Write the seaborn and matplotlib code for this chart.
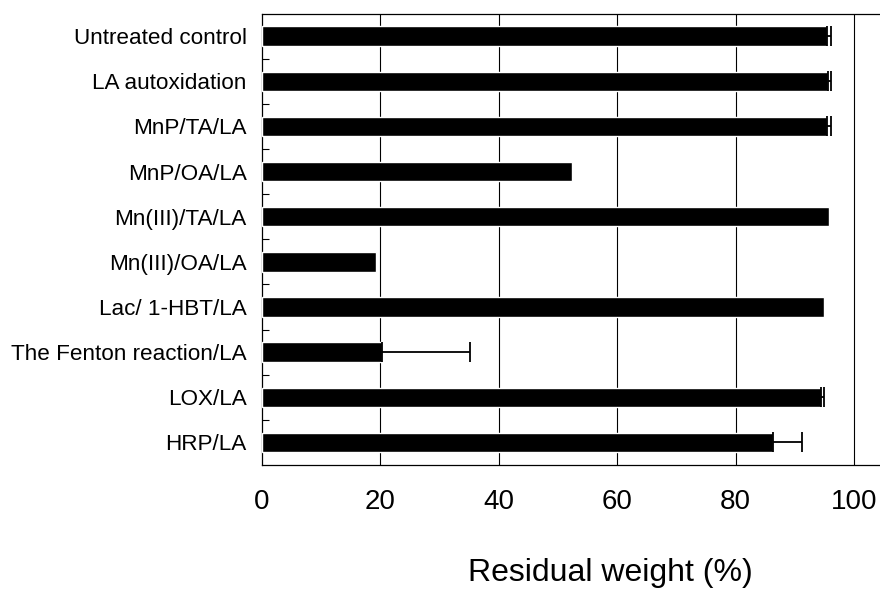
import numpy as np
import pandas as pd
import matplotlib
matplotlib.use("Agg")
import matplotlib.pyplot as plt
import seaborn as sns

categories = ["Untreated control", "LA autoxidation", "MnP/TA/LA", "MnP/OA/LA",
              "Mn(III)/TA/LA", "Mn(III)/OA/LA", "Lac/ 1-HBT/LA",
              "The Fenton reaction/LA", "LOX/LA", "HRP/LA"]
values = [95.4, 95.6, 95.5, 52.4, 95.8, 19.3, 94.9, 20.2, 94.4, 86.3]
errors = [0.7, 0.6, 0.6, 0.0, 0.0, 0.0, 0.0, 15.0, 0.5, 5.0]
xticks = [0, 20, 40, 60, 80, 100]

sns.set_theme(style="white")
plt.rcParams['font.family'] = ['Liberation Sans', 'DejaVu Sans']
plt.rcParams['text.color'] = 'black'
plt.rcParams['xtick.color'] = 'black'
plt.rcParams['ytick.color'] = 'black'
plt.rcParams['axes.labelcolor'] = 'black'

fig = plt.figure(figsize=(8.8, 5.95), dpi=100)
ax = fig.add_axes([262/880, 1 - 465/595, 1 - 262/880, (465 - 13.5)/595])

df = pd.DataFrame({"cat": categories, "val": values, "err": errors})
sns.barplot(data=df, x="val", y="cat", color="black", orient="h",
            width=0.43, errorbar=None, ax=ax, saturation=1, zorder=3)

pos = np.arange(len(categories))
mask = df["err"].values > 0
ax.errorbar(df["val"].values[mask], pos[mask],
            xerr=[np.zeros(mask.sum()), df["err"].values[mask]],
            fmt="none", ecolor="black", elinewidth=1.3, capsize=7.5,
            capthick=1.3, zorder=4)

ax.set_xlim(0, 104.4)
ax.set_ylim(9.5, -0.5)
ax.set_xticks(xticks)
ax.set_xticklabels([str(t) for t in xticks], fontsize=20, color="black")
ax.tick_params(axis="x", length=0, pad=17, labelcolor="black")
ax.tick_params(axis="y", which="major", length=0, pad=11, labelsize=16.2,
               labelcolor="black")
ax.set_yticks(np.arange(len(categories) - 1) + 0.5, minor=True)
ax.tick_params(axis="y", which="minor", direction="in", length=5,
               width=0.8, color="black", left=True)

for t in xticks[1:]:
    ax.axvline(t, color="black", lw=0.8, zorder=2)

for side in ["left", "bottom", "top"]:
    ax.spines[side].set_visible(True)
    ax.spines[side].set_color("black")
    ax.spines[side].set_linewidth(0.9)
ax.spines["right"].set_visible(False)

ax.set_ylabel("")
ax.set_xlabel("Residual weight (%)", fontsize=23, color="black")
ax.xaxis.set_label_coords((610 - 262) / 618, (465 - 558) / 451.5)
ax.xaxis.label.set_va("top")

fig.savefig("out.png", dpi=100)
